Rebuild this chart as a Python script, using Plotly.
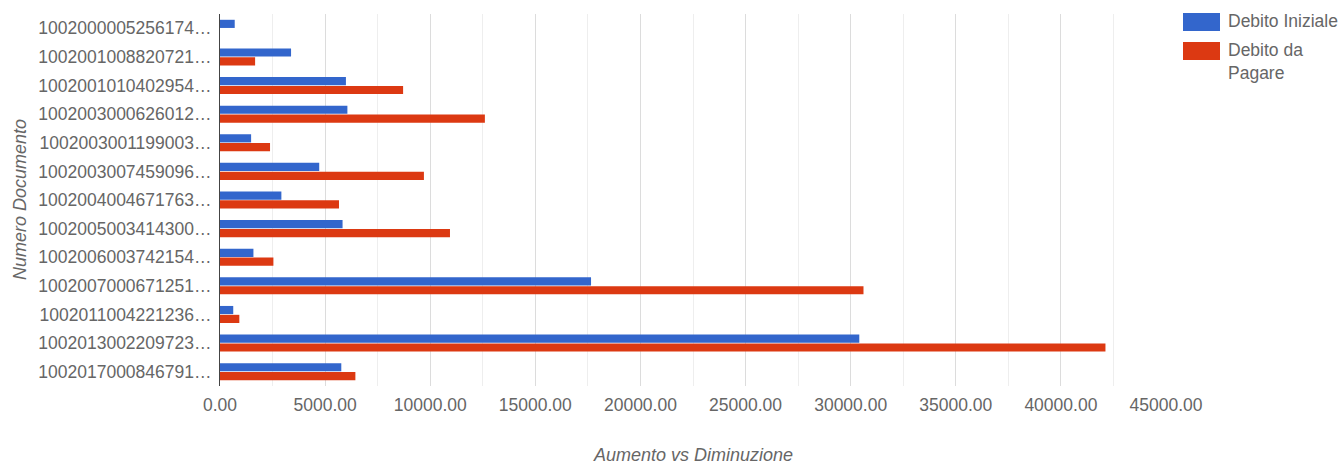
import plotly.graph_objects as go

# Document numbers (as shown, truncated) and the two debt series
documenti = [
    "1002000005256174…",
    "1002001008820721…",
    "1002001010402954…",
    "1002003000626012…",
    "1002003001199003…",
    "1002003007459096…",
    "1002004004671763…",
    "1002005003414300…",
    "1002006003742154…",
    "1002007000671251…",
    "1002011004221236…",
    "1002013002209723…",
    "1002017000846791…",
]
debito_iniziale = [700, 3380, 5990, 6060, 1480, 4720, 2920, 5830, 1590, 17650, 630, 30410, 5770]
debito_da_pagare = [0, 1670, 8710, 12600, 2380, 9700, 5660, 10940, 2540, 30610, 920, 42120, 6440]

serie = [
    ("Debito Iniziale", debito_iniziale, "#3366cc"),
    ("Debito da Pagare", debito_da_pagare, "#dc3912"),
]

FONT = "Liberation Sans, Arial, sans-serif"
TEXT_COLOR = "#666666"

fig = go.Figure()
for nome, valori, colore in serie:
    fig.add_trace(go.Bar(
        y=documenti, x=valori, name=nome, orientation="h",
        marker=dict(color=colore, line=dict(width=0)),
        showlegend=False,
    ))

fig.update_layout(
    width=1343, height=464,
    margin=dict(l=220, r=177, t=14, b=78),
    paper_bgcolor="white", plot_bgcolor="white",
    barmode="group", bargap=0.38, bargroupgap=0.08,
    font=dict(family=FONT, size=17, color=TEXT_COLOR),
    xaxis=dict(
        range=[0, 45000], tickvals=list(range(0, 45001, 5000)),
        ticktext=[f"{v:.2f}" for v in range(0, 45001, 5000)],
        showgrid=True, gridcolor="#dcdcdc", gridwidth=1,
        minor=dict(dtick=2500, showgrid=True, gridcolor="#eeeeee"),
        zeroline=False, showline=False, ticks="",
        ticklabelstandoff=6,
        tickfont=dict(family=FONT, size=17.5, color=TEXT_COLOR),
    ),
    yaxis=dict(
        autorange="reversed", showgrid=False, zeroline=False,
        showline=True, linecolor="#444444", linewidth=1, ticks="",
        ticklabelstandoff=4,
        tickfont=dict(family=FONT, size=17.5, color=TEXT_COLOR),
    ),
)

# Axis titles
fig.add_annotation(
    text="<i>Aumento vs Diminuzione</i>", xref="paper", yref="paper",
    x=0.5, y=0, yshift=-69, xanchor="center", yanchor="middle",
    showarrow=False,
    font=dict(family=FONT, size=18, color=TEXT_COLOR),
)
fig.add_annotation(
    text="<i>Numero Documento</i>", xref="paper", yref="paper",
    x=0, xshift=-200, y=0.5, xanchor="center", yanchor="middle",
    textangle=-90, showarrow=False,
    font=dict(family=FONT, size=18, color=TEXT_COLOR),
)

# Legend at the right side
legenda_y = [22, 51]
legenda_testo = ["Debito Iniziale", "Debito da<br>Pagare"]
for (nome, _, colore), y_px, testo in zip(serie, legenda_y, legenda_testo):
    top = 1 - (y_px - 9 - 14) / 372
    bottom = 1 - (y_px + 9 - 14) / 372
    fig.add_shape(
        type="rect", xref="paper", yref="paper",
        x0=(1183 - 220) / 946, x1=(1220 - 220) / 946,
        y0=bottom, y1=top, fillcolor=colore, line=dict(width=0),
    )
    fig.add_annotation(
        text=testo, xref="paper", yref="paper",
        x=(1226 - 220) / 946, y=top, xanchor="left", yanchor="top",
        yshift=4, showarrow=False, align="left",
        font=dict(family=FONT, size=17.5, color=TEXT_COLOR),
    )

fig.write_html("out.html")
